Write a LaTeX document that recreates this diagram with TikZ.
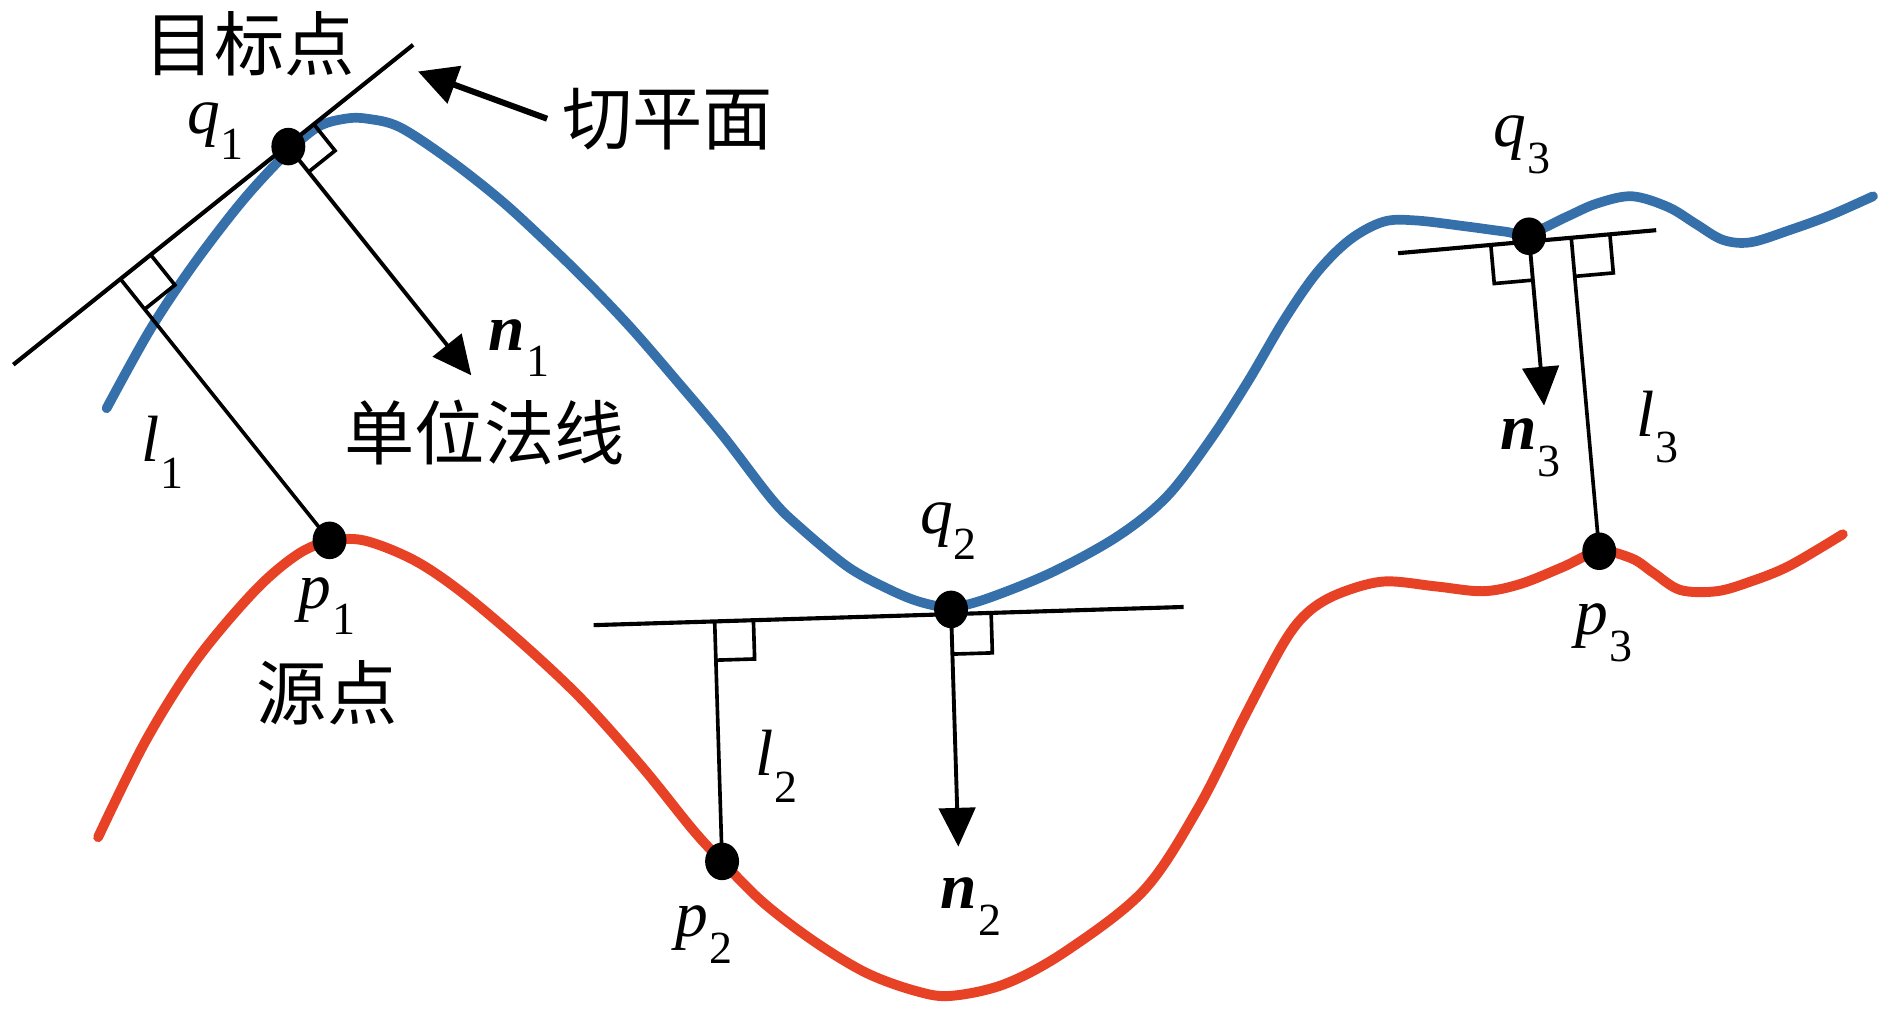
\documentclass[tikz,border=0pt]{standalone}
\usepackage{fontspec}
\setmainfont{Liberation Serif}
\newfontfamily\cjk{Noto Sans CJK SC}
\usetikzlibrary{arrows.meta,calc,shapes.geometric}
\definecolor{curveblue}{RGB}{54,112,170}
\definecolor{curvered}{RGB}{232,66,38}
\newcommand{\mylbl}[2]{#1\kern0.5pt\raisebox{-11pt}{\fontsize{19}{19}\selectfont #2}}
\begin{document}
\begin{tikzpicture}[x=0.5pt,y=-0.5pt,
  blueline/.style={curveblue,line width=4pt,line cap=round},
  redline/.style={curvered,line width=4.1pt,line cap=round},
  tangentline/.style={black,line width=1.7pt},
  perpline/.style={black,line width=1.5pt},
  normalarrow/.style={black,line width=1.6pt,-{Triangle[length=16pt,width=15pt]}},
  cutarrow/.style={black,line width=2.5pt,-{Triangle[length=16pt,width=16pt]}},
  rightmark/.style={black,line width=1.5pt},
  dotmark/.style={ellipse,fill=black,inner sep=0pt,minimum width=14pt,minimum height=15.5pt},
  cjklbl/.style={inner sep=0pt,font=\cjk\fontsize{29}{32}\selectfont},
  latlbl/.style={inner sep=0pt,anchor=base west,font=\fontsize{27}{30}\selectfont}
]
\useasboundingbox (0,0) rectangle (1560,838);

% curves
\draw[blueline] plot[smooth,tension=0.55] coordinates {(88,337) (124,272) (160,218) (200,166) (235,128) (262,105) (285,98) (303,98) (330,105) (371,132) (413,165) (448,197) (485,233) (522,272) (560,316) (597,360) (637,412) (660,435) (700,468) (735,487) (760,497) (784,501) (812,495) (867,473) (922,443) (963,410) (999,363) (1030,315) (1060,264) (1087,225) (1114,198) (1142,183) (1169,182) (1211,187) (1241,191) (1262,193) (1293,179) (1318,168) (1347,162) (1377,171) (1400,185) (1422,198) (1445,200) (1477,190) (1510,178) (1546,162)};
\draw[redline] plot[smooth,tension=0.55] coordinates {(81,691) (120,612) (162,545) (210,488) (245,458) (271,447) (300,446) (341,462) (380,488) (430,530) (480,577) (530,633) (572,685) (596,711) (630,745) (672,777) (715,803) (756,818) (785,822) (830,812) (880,785) (944,735) (989,667) (1028,590) (1060,530) (1080,505) (1105,490) (1142,480) (1185,484) (1224,488) (1255,482) (1290,468) (1320,455) (1347,461) (1365,473) (1387,487) (1417,488) (1445,480) (1477,467) (1521,441)};

% key points
\coordinate (T1a) at (11,301);  \coordinate (T1b) at (341,37);
\coordinate (q1) at (238,121);  \coordinate (p1) at (272,446);
\coordinate (T2a) at (490,516); \coordinate (T2b) at (977,501);
\coordinate (q2) at (785,503);  \coordinate (p2) at (596,711);
\coordinate (T3a) at (1154,209);\coordinate (T3b) at (1367,190);
\coordinate (q3) at (1262,195); \coordinate (p3) at (1320,455);

% feet on tangent planes
\coordinate (F1q) at ($(T1a)!(q1)!(T1b)$);
\coordinate (F1p) at ($(T1a)!(p1)!(T1b)$);
\coordinate (F2q) at ($(T2a)!(q2)!(T2b)$);
\coordinate (F2p) at ($(T2a)!(p2)!(T2b)$);
\coordinate (F3q) at ($(T3a)!(q3)!(T3b)$);
\coordinate (F3p) at ($(T3a)!(p3)!(T3b)$);

% normal tips
\coordinate (N1) at ($(F1q)!121.5pt!-90:(T1b)$);
\coordinate (N2) at ($(F2q)!96pt!-90:(T2b)$);
\coordinate (N3) at ($(F3q)!68pt!-90:(T3b)$);

% tangent planes
\draw[tangentline] (T1a) -- (T1b);
\draw[tangentline] (T2a) -- (T2b);
\draw[tangentline] (T3a) -- (T3b);

% normals
\draw[normalarrow] (F1q) -- (N1);
\draw[normalarrow] (F2q) -- (N2);
\draw[normalarrow] (F3q) -- (N3);

% distances
\draw[perpline] (F1p) -- (p1);
\draw[perpline] (F2p) -- (p2);
\draw[perpline] (F3p) -- (p3);

% right-angle marks
\coordinate (A1) at ($(F1q)!14pt!(T1b)$); \coordinate (C1) at ($(F1q)!14pt!(N1)$);
\coordinate (B1) at ($(A1)+(C1)-(F1q)$);
\draw[rightmark] (A1) -- (B1) -- (C1);
\coordinate (A2) at ($(F1p)!16pt!(T1b)$); \coordinate (C2) at ($(F1p)!16pt!(p1)$);
\coordinate (B2) at ($(A2)+(C2)-(F1p)$);
\draw[rightmark] (A2) -- (B2) -- (C2);
\coordinate (A3) at ($(F2q)!16.5pt!(T2b)$); \coordinate (C3) at ($(F2q)!16.5pt!(N2)$);
\coordinate (B3) at ($(A3)+(C3)-(F2q)$);
\draw[rightmark] (A3) -- (B3) -- (C3);
\coordinate (A4) at ($(F2p)!16pt!(T2b)$); \coordinate (C4) at ($(F2p)!16pt!(p2)$);
\coordinate (B4) at ($(A4)+(C4)-(F2p)$);
\draw[rightmark] (A4) -- (B4) -- (C4);
\coordinate (A5) at ($(F3q)!16pt!(T3a)$); \coordinate (C5) at ($(F3q)!16pt!(N3)$);
\coordinate (B5) at ($(A5)+(C5)-(F3q)$);
\draw[rightmark] (A5) -- (B5) -- (C5);
\coordinate (A6) at ($(F3p)!16pt!(T3b)$); \coordinate (C6) at ($(F3p)!16pt!(p3)$);
\coordinate (B6) at ($(A6)+(C6)-(F3p)$);
\draw[rightmark] (A6) -- (B6) -- (C6);

% dots
\node[dotmark] (dq1) at (q1) {};
\node[dotmark] (dp1) at (p1) {};
\node[dotmark] (dq2) at (q2) {};
\node[dotmark] (dp2) at (p2) {};
\node[dotmark] (dq3) at (q3) {};
\node[dotmark] (dp3) at (p3) {};

% labels
\node[cjklbl] (lblTarget) at (206,36) {目标点};
\node[cjklbl] (lblCut) at (551,98) {切平面};
\node[cjklbl] (lblUnit) at (400,357) {单位法线};
\node[cjklbl] (lblSource) at (270,572) {源点};
\coordinate (cutTip) at (345,59);
\draw[cutarrow] ([xshift=-6pt]lblCut.west) -- (cutTip);

\node[latlbl] (lq1) at (154,110) {\mylbl{\textit{q}}{1}};
\node[latlbl] (ln1) at (403,289) {\mylbl{\textbf{\textit{n}}}{1}};
\node[latlbl] (ll1) at (116,381) {\mylbl{\textit{l}}{1}};
\node[latlbl] (lp1) at (246,502) {\mylbl{\textit{p}}{1}};
\node[latlbl] (lq2) at (759,440) {\mylbl{\textit{q}}{2}};
\node[latlbl] (ll2) at (623,640) {\mylbl{\textit{l}}{2}};
\node[latlbl] (lp2) at (557,773) {\mylbl{\textit{p}}{2}};
\node[latlbl] (ln2) at (776,750) {\mylbl{\textbf{\textit{n}}}{2}};
\node[latlbl] (lq3) at (1232,121) {\mylbl{\textit{q}}{3}};
\node[latlbl] (ln3) at (1238,371) {\mylbl{\textbf{\textit{n}}}{3}};
\node[latlbl] (ll3) at (1350,360) {\mylbl{\textit{l}}{3}};
\node[latlbl] (lp3) at (1300,524) {\mylbl{\textit{p}}{3}};
\end{tikzpicture}
\end{document}
